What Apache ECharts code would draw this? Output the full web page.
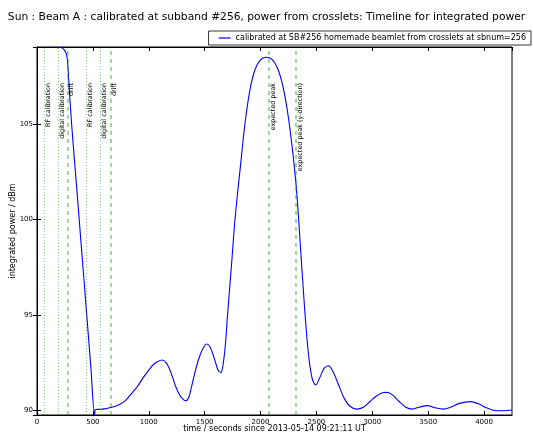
<!DOCTYPE html>
<html>
<head>
<meta charset="utf-8">
<script src="https://cdn.jsdelivr.net/npm/echarts@6/dist/echarts.min.js"></script>
<style>html,body{margin:0;padding:0;background:#fff}#c{width:533px;height:434px}</style>
</head>
<body>
<div id="c"></div>
<script>
const titleText = 'Sun : Beam A : calibrated at subband #256, power from crosslets: Timeline for integrated power';
const seriesName = 'calibrated at SB#256 homemade beamlet from crosslets at sbnum=256';
const xAxisName = 'time / seconds since 2013-05-14 09:21:11 UT';
const yAxisName = 'integrated power / dBm';

const times = [190, 215, 240, 260, 272, 285, 310, 350, 400, 445, 480, 516,
  520, 560, 600, 650, 700, 743, 800, 859, 900, 950, 1000, 1040, 1080, 1120, 1160, 1200, 1240, 1280, 1310, 1331,
  1355, 1380, 1410, 1440, 1470, 1500, 1520, 1545, 1570, 1595, 1620, 1644, 1665, 1685, 1705, 1740, 1772, 1820, 1861, 1906,
  1951, 1996, 2049, 2103, 2157, 2210, 2264, 2318, 2353, 2389, 2425, 2461, 2494, 2530, 2570, 2607,
  2650, 2700, 2750, 2800, 2861, 2920, 2980, 3040, 3100, 3135, 3180, 3240, 3300, 3353, 3420, 3493,
  3560, 3636, 3700, 3780, 3875, 3950, 4020, 4114, 4180, 4250];
const powers = [109.07, 109.04, 108.95, 108.75, 108.4, 107.2, 105.0, 102.05, 98.35, 95.0, 92.4, 89.75,
  90.02, 90.04, 90.06, 90.12, 90.2, 90.3, 90.55, 90.96, 91.25, 91.7, 92.1, 92.38, 92.55, 92.63, 92.45, 91.95, 91.25, 90.75, 90.55, 90.49,
  90.62, 91.15, 91.9, 92.55, 93.05, 93.38, 93.47, 93.35, 93.0, 92.55, 92.1, 91.96, 92.4, 93.4, 95.0, 97.6, 100.05, 102.8, 105.05, 106.84,
  107.89, 108.37, 108.53, 108.42, 107.89, 106.74, 104.74, 101.84, 98.95, 95.79, 93.16, 91.68, 91.32, 91.7, 92.2, 92.33,
  92.0, 91.3, 90.6, 90.2, 90.05, 90.15, 90.45, 90.75, 90.92, 90.93, 90.8, 90.45, 90.15, 90.05, 90.15, 90.23,
  90.12, 90.05, 90.15, 90.35, 90.44, 90.33, 90.12, 89.96, 89.96, 90.0];

const markerTimes = [65, 191, 275, 445, 570, 656, 2076, 2318];
const markerLabels = ['RF calibration', 'digital calibration', 'drift', 'RF calibration',
  'digital calibration', 'drift', 'expected peak', 'expected peak (y-direction)'];
const markerKinds = ['calibration', 'calibration', 'event', 'calibration', 'calibration', 'event', 'event', 'event'];

const xTicks = { min: 0, max: 4250, step: 500 };
const yRange = { min: 89.74, max: 109.07 };

const FONT = 'DejaVu Sans';
const data = times.map((t, i) => [t, powers[i]]);
const green = 'rgba(0,150,0,0.5)';
const markData = markerTimes.map((t, i) => ({
  xAxis: t,
  name: markerLabels[i],
  lineStyle: markerKinds[i] === 'calibration'
    ? { type: [1, 2], width: 1, color: green }
    : { type: [4, 4], width: 1.5, color: green },
  label: {
    show: true, formatter: markerLabels[i], position: 'insideEndBottom',
    distance: [36, 1], color: '#000', fontSize: 6.4, fontFamily: FONT
  }
}));

const plain = v => String(v);
const baseX = { type: 'value', min: xTicks.min, max: xTicks.max, interval: xTicks.step };
const baseY = { type: 'value', min: yRange.min, max: yRange.max, splitNumber: 4, scale: true };

const chart = echarts.init(document.getElementById('c'), null, { renderer: 'canvas' });
chart.setOption({
  animation: false,
  backgroundColor: '#fff',
  title: {
    text: titleText, left: 'center', top: 7,
    textStyle: { fontFamily: FONT, fontSize: 10.7, fontWeight: 'normal', color: '#000' }
  },
  legend: {
    data: [{ name: seriesName, icon: 'rect' }], right: 2, top: 31, padding: [3, 5, 3, 10],
    borderColor: '#000', borderWidth: 0.8, itemWidth: 12, itemHeight: 1.2, itemGap: 5,
    textStyle: { fontFamily: FONT, fontSize: 8, color: '#000', lineHeight: 8 }
  },
  grid: { left: 37, right: 21, top: 47, bottom: 19, show: true, borderColor: '#000', borderWidth: 1,
    backgroundColor: 'transparent', containLabel: false, outerBoundsMode: 'none' },
  xAxis: [
    Object.assign({}, baseX, {
      position: 'bottom', name: xAxisName, nameLocation: 'middle', nameGap: 10, nameMoveOverlap: false,
      nameTextStyle: { fontFamily: FONT, fontSize: 8, color: '#000' },
      axisLine: { show: true, lineStyle: { color: '#000', width: 1 } },
      axisTick: { inside: true, length: 4, lineStyle: { color: '#000' } },
      axisLabel: { fontFamily: FONT, fontSize: 7, color: '#000', margin: 4, showMaxLabel: false, formatter: plain },
      splitLine: { show: false }
    }),
    Object.assign({}, baseX, {
      position: 'top',
      axisLine: { show: true, lineStyle: { color: '#000', width: 1 } },
      axisTick: { inside: true, length: 4, lineStyle: { color: '#000' } },
      axisLabel: { show: false }, splitLine: { show: false }
    })
  ],
  yAxis: [
    Object.assign({}, baseY, {
      position: 'left', name: yAxisName, nameLocation: 'middle', nameGap: 20, nameMoveOverlap: false,
      nameTextStyle: { fontFamily: FONT, fontSize: 8, color: '#000' },
      axisLine: { show: true, lineStyle: { color: '#000', width: 1 } },
      axisTick: { inside: true, length: 4, lineStyle: { color: '#000' } },
      axisLabel: { fontFamily: FONT, fontSize: 7, color: '#000', margin: 4, showMinLabel: false, showMaxLabel: false, formatter: plain },
      splitLine: { show: false }
    }),
    Object.assign({}, baseY, {
      position: 'right',
      axisLine: { show: true, lineStyle: { color: '#000', width: 1 } },
      axisTick: { inside: true, length: 4, lineStyle: { color: '#000' } },
      axisLabel: { show: false }, splitLine: { show: false }
    })
  ],
  series: [{
    name: seriesName, type: 'line', data: data, xAxisIndex: 0, yAxisIndex: 0,
    symbol: 'none', showSymbol: false, smooth: 0.35,
    lineStyle: { color: '#0000ff', width: 1.1 }, itemStyle: { color: '#0000ff' },
    markLine: { symbol: 'none', silent: true, animation: false, data: markData }
  }]
});
</script>
</body>
</html>
